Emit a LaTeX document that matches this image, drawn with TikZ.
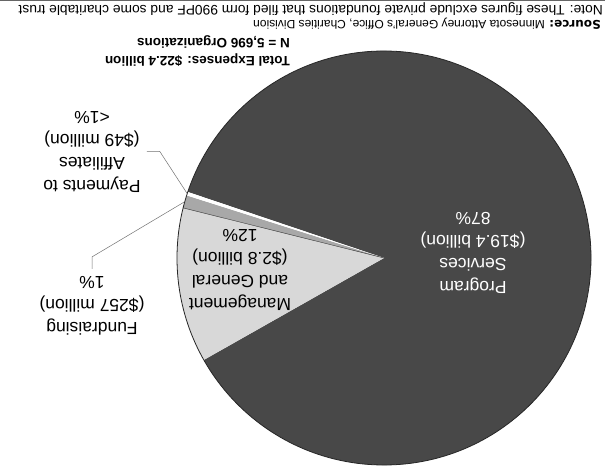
\documentclass[tikz,border=0pt]{standalone}
\usepackage{fontspec}
\usetikzlibrary{calc}
\setmainfont{Liberation Sans}
\newfontfamily\vfont{DejaVu Sans}
\definecolor{pdark}{RGB}{72,72,72}
\definecolor{plight}{RGB}{216,216,216}
\definecolor{pgrey}{RGB}{168,168,168}
\begin{document}
\begin{tikzpicture}[x=1pt,y=1pt,
  lbl/.style={rotate=180,align=center,font=\fontsize{17.5}{23}\selectfont,inner sep=0pt},
  leader/.style={draw=black!55,line width=0.5pt},
  head/.style={rotate=180,anchor=west,inner sep=0pt}]
\useasboundingbox (0,0) rectangle (605,466);
\fill[white] (0,0) rectangle (605,466);
\coordinate (c) at (384,208);
\def\R{207}
% slices
\fill[pdark] (c) -- ++(209.5:\R) arc[start angle=209.5,end angle=521.4,radius=\R] -- cycle;
\fill[plight] (c) -- ++(166:\R) arc[start angle=166,end angle=209.5,radius=\R] -- cycle;
\fill[pgrey] (c) -- ++(162.4:\R) arc[start angle=162.4,end angle=166,radius=\R] -- cycle;
\fill[white] (c) -- ++(161.4:\R) arc[start angle=161.4,end angle=162.4,radius=\R] -- cycle;
\draw[black!80,line width=0.4pt] (c) -- ++(166:\R);
\draw[black!85,line width=0.8pt] (c) circle[radius=\R];
\coordinate (payend) at ($(c)+(161.9:\R)$);
\coordinate (fundend) at ($(c)+(164.2:\R)$);
% labels
\node[lbl,text=white] (prog) at (473,213) {Program\\Services\\(\$19.4 billion)\\87\%};
\node[lbl] (mgmt) at (240,196) {Management\\and General\\(\$2.8 billion)\\12\%};
\node[lbl] (fund) at (92,160.5) {Fundraising\\(\$257 million)\\1\%};
\node[lbl] (pay) at (92,314.5) {Payments to\\Affiliates\\(\$49 million)\\<1\%};
% leaders
\draw[leader] ([xshift=6pt]pay.west) -- ++(13,0) -- (payend);
\draw[leader] ([yshift=7pt]fund.south) -- ++(0,12) -- (fundend);
% title and notes
\node[head,align=left,font=\bfseries\fontsize{13.5}{18}\selectfont] (title) at (290,415) {Total Expenses: \$22.4 billion\\N = 5,696 Organizations};
\node[head,font=\fontsize{12}{14}\selectfont] (src) at (601,442) {{\vfont\bfseries Source:} Minnesota Attorney General's Office, Charities Division};
\node[head,font=\fontsize{13.8}{15}\selectfont] (note) at (603,457) {Note: These figures exclude private foundations that filed form 990PF and some charitable trust};
\draw[black!60,line width=0.8pt] (0,465.4) -- (605,465.4);
\end{tikzpicture}
\end{document}
